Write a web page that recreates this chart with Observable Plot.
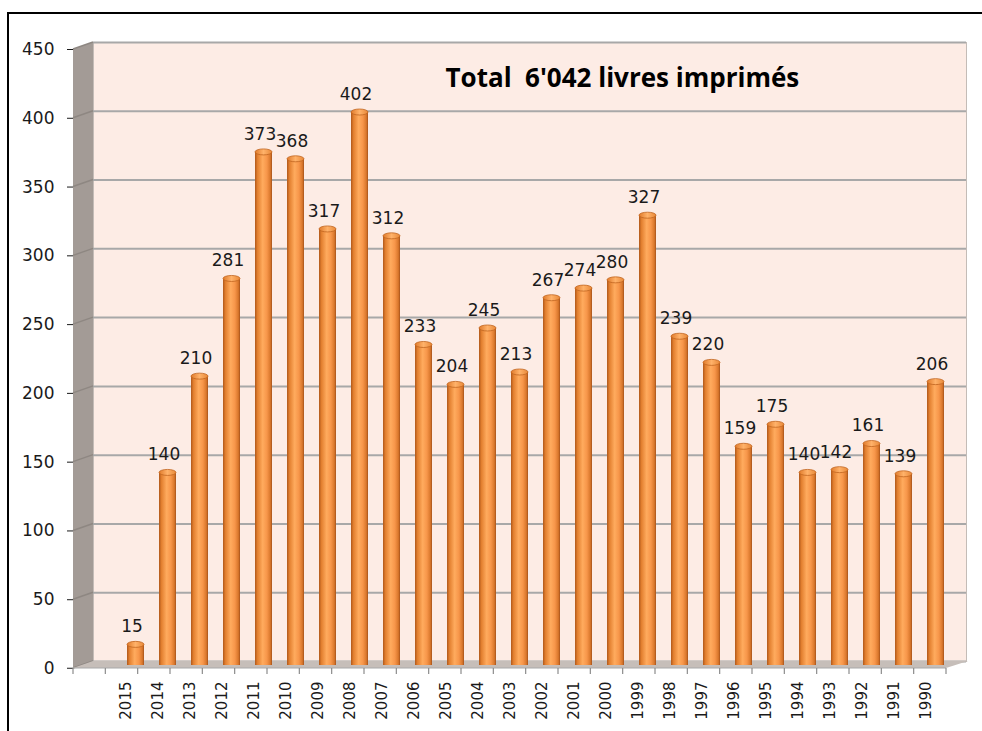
<!DOCTYPE html>
<html><head><meta charset="utf-8">
<script src="https://cdn.jsdelivr.net/npm/d3@7"></script>
<script src="https://cdn.jsdelivr.net/npm/@observablehq/plot@0.6"></script>
<style>
body{margin:0;background:#fff;}
#wrap{position:relative;width:982px;height:731px;overflow:hidden;}
#border{position:absolute;left:7px;top:12px;width:1000px;height:800px;border-left:2px solid #000;border-top:2px solid #000;}
#wrap svg{position:absolute;left:0;top:0;}
</style></head><body><div id="wrap"><div id="border"></div></div>
<script>
const years = ["2015","2014","2013","2012","2011","2010","2009","2008","2007","2006","2005","2004","2003","2002","2001","2000","1999","1998","1997","1996","1995","1994","1993","1992","1991","1990"];
const counts = [15,140,210,281,373,368,317,402,312,233,204,245,213,267,274,280,327,239,220,159,175,140,142,161,139,206];
const title = "Total  6'042 livres imprimés";
const spacer = "";
const yTicks = [0,50,100,150,200,250,300,350,400,450];

const data = years.map((y, i) => ({year: y, count: counts[i]}));
const W = 982, H = 731, ML = 73, MR = 36, MT = 49, MB = 63;
const DX = 20, DY = -7;
const FONT = '"DejaVu Sans", Verdana, sans-serif';

const chart = Plot.plot({
  width: W, height: H, marginLeft: ML, marginRight: MR, marginTop: MT, marginBottom: MB,
  style: {background: "transparent", fontFamily: FONT, fontSize: "17px", color: "#1a1a1a", overflow: "visible"},
  x: {type: "band", domain: [spacer, ...years], paddingInner: 0.47, paddingOuter: 0.235, tickSize: 0, tickPadding: 13, tickRotate: -90, label: null},
  y: {domain: [0, 450], ticks: yTicks, tickSize: 6, tickPadding: 13, label: null},
  marks: [
    Plot.frame({fill: "#fdece5", stroke: "#c4bcb7", dx: DX, dy: DY}),
    Plot.ruleY(yTicks, {stroke: "#a8a8a8", strokeWidth: 2, dx: DX, dy: DY}),
    Plot.barY(data, {x: "year", y: "count", fill: "url(#cyl)", dx: 10, dy: -3}),
    Plot.text(data, {x: "year", y: "count", text: d => String(d.count), dx: 6, dy: -21, fontSize: 17, fontFamily: FONT, fill: "#1a1a1a"}),
    Plot.text([title], {frameAnchor: "top-left", dx: 372, dy: 29, textAnchor: "start", lineAnchor: "middle", fontSize: 26, fontWeight: "bold", fontFamily: "Open Sans", fill: "#000"})
  ]
});

document.getElementById("wrap").appendChild(chart);

const svg = d3.select(chart);
svg.selectAll('g[aria-label^="y-axis"] text').style("font-family", FONT).style("font-size", "17px");
svg.selectAll('g[aria-label^="x-axis"] text').style("font-family", FONT).style("font-size", "15px");
const ys = chart.scale("y");
const xs = chart.scale("x");
const y = v => ys.apply(v);
const [xr0, xr1] = xs.range;
const nSlots = xs.domain.length;
const step = (xr1 - xr0) / nSlots;

const defs = svg.append("defs");
const grad = defs.append("linearGradient").attr("id", "cyl").attr("x1", 0).attr("x2", 1).attr("y1", 0).attr("y2", 0);
[[0, "#b0581a"], [0.15, "#e38030"], [0.45, "#ffab5e"], [0.7, "#f7964a"], [0.9, "#d9772c"], [1, "#a5521a"]]
  .forEach(([o, c]) => grad.append("stop").attr("offset", o).attr("stop-color", c));
const capGrad = defs.append("linearGradient").attr("id", "cap").attr("x1", 0).attr("x2", 1).attr("y1", 0).attr("y2", 0);
[[0, "#e07a2a"], [0.5, "#ffb26a"], [1, "#e88838"]]
  .forEach(([o, c]) => capGrad.append("stop").attr("offset", o).attr("stop-color", c));

// cylinder caps on top of each bar rendered by Plot
const barG = svg.select('g[aria-label="bar"]');
barG.selectAll("rect").each(function () {
  const r = d3.select(this);
  const bx = +r.attr("x"), by = +r.attr("y"), bw = +r.attr("width");
  barG.append("ellipse").attr("cx", bx + bw / 2).attr("cy", by).attr("rx", bw / 2).attr("ry", 3)
    .attr("fill", "url(#cap)").attr("stroke", "#c0651f").attr("stroke-width", 0.8);
});

const barNode = barG.node();
const decor = d3.select(chart.insertBefore(document.createElementNS("http://www.w3.org/2000/svg", "g"), barNode));
const y0 = y(0), yTop = y(450);
decor.append("polygon")
  .attr("points", [[xr0, yTop], [xr0 + DX, yTop + DY], [xr0 + DX, y0 + DY], [xr0, y0]].map(p => p.join(",")).join(" "))
  .attr("fill", "#a39b96");
yTicks.forEach(t => {
  decor.append("line").attr("x1", xr0).attr("y1", y(t)).attr("x2", xr0 + DX).attr("y2", y(t) + DY)
    .attr("stroke", "#8e8782").attr("stroke-width", 1.5);
});
decor.append("polygon")
  .attr("points", [[xr0, y0], [xr0 + DX, y0 + DY], [xr1 + DX + 2, y0 + DY], [xr1, y0]].map(p => p.join(",")).join(" "))
  .attr("fill", "#c6beb9");
decor.append("line").attr("x1", xr0).attr("x2", xr1).attr("y1", y0).attr("y2", y0).attr("stroke", "#a8a8a8").attr("stroke-width", 1);
for (let i = 0; i <= nSlots; i++) {
  const xx = xr0 + i * step;
  svg.append("line").attr("x1", xx).attr("x2", xx).attr("y1", y0).attr("y2", y0 + 6).attr("stroke", "#8c8c8c").attr("stroke-width", 1.2);
}
svg.append("line").attr("x1", xr0).attr("x2", xr0 - 6).attr("y1", y0).attr("y2", y0).attr("stroke", "#8c8c8c");
</script></body></html>
